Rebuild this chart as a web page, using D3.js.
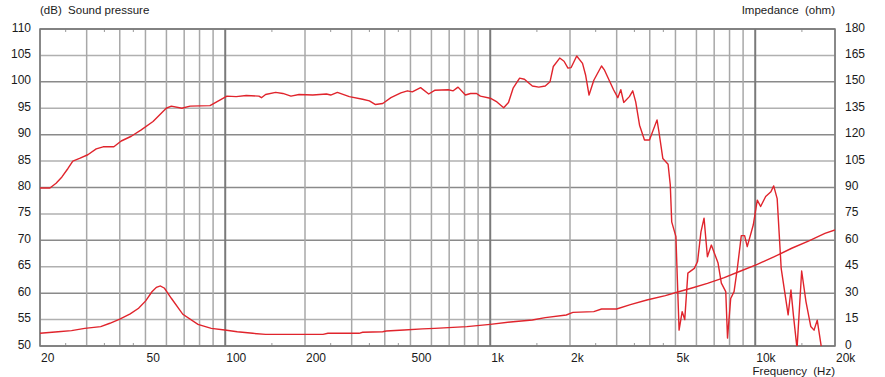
<!DOCTYPE html>
<html>
<head>
<meta charset="utf-8">
<script src="https://cdn.jsdelivr.net/npm/d3@7"></script>
<style>
  body { margin: 0; background: #fff; }
  text { font-family: Arial, "Liberation Sans", sans-serif; font-size: 11.5px; fill: #1a1a1a; }
  .num { font-size: 12px; }
</style>
</head>
<body>
<div id="chart"></div>
<script>
// sound pressure curve, [Hz, dB]
const splData = [
  [20, 79.9], [21.8, 79.9], [23, 80.8], [24.2, 82.0], [25.5, 83.6], [26.6, 85.0],
  [28.2, 85.5], [30.3, 86.2], [32.6, 87.3], [34.6, 87.7], [38, 87.7], [40.5, 88.8],
  [44.2, 89.7], [48.2, 90.9], [53.4, 92.5], [59.9, 95.0], [62.6, 95.4], [68.6, 95.0],
  [73.7, 95.4], [87.6, 95.5], [94.3, 96.4], [101.5, 97.3], [110, 97.2], [120, 97.4],
  [134, 97.3], [137, 97.0], [142, 97.6], [155, 98.0], [165, 97.8], [177, 97.3],
  [190, 97.6], [214, 97.5], [241, 97.7], [250, 97.5], [265, 98.0], [294, 97.2],
  [330, 96.7], [350, 96.4], [369, 95.7], [393, 95.9], [422, 97.0], [460, 97.9],
  [487, 98.3], [508, 98.1], [546, 98.9], [586, 97.7], [617, 98.4], [695, 98.5],
  [725, 98.3], [756, 99.0], [806, 97.5], [843, 97.8], [888, 97.8], [918, 97.3],
  [1000, 96.9], [1060, 96.2], [1124, 95.1], [1172, 96.1], [1220, 98.8], [1291, 100.7],
  [1346, 100.5], [1442, 99.2], [1525, 99.0], [1613, 99.2], [1681, 100.0], [1730, 102.9],
  [1829, 104.5], [1899, 103.9], [1965, 102.6], [2020, 102.7], [2120, 104.9], [2230, 103.5],
  [2290, 101.3], [2360, 97.5], [2460, 100.3], [2630, 103.0], [2700, 102.2], [2920, 98.5],
  [3030, 97.0], [3110, 98.5], [3190, 96.1], [3350, 97.2], [3450, 98.3], [3540, 96.2],
  [3660, 91.8], [3820, 89.0], [3990, 89.0], [4260, 92.8], [4330, 90.6], [4480, 85.5],
  [4690, 84.4], [4780, 80.5], [4840, 73.5], [5020, 70.7], [5160, 53.0], [5300, 56.5],
  [5420, 55.0], [5570, 63.8], [5890, 64.7], [6060, 66.0], [6240, 71.6], [6410, 74.2],
  [6600, 66.9], [6830, 69.1], [7240, 65.7], [7450, 61.9], [7740, 60.3], [7860, 51.5],
  [8080, 59.0], [8320, 60.3], [8560, 64.7], [8860, 70.9], [9120, 70.9], [9330, 68.8],
  [9830, 72.9], [10180, 77.6], [10480, 76.4], [10950, 78.3], [11460, 79.2], [11740, 80.3],
  [12100, 77.9], [12530, 64.7], [13310, 55.9], [13640, 60.6], [13930, 55.9], [14380, 49.5],
  [14970, 64.2], [15540, 58.4], [16200, 53.7], [16670, 53.0], [17140, 54.9], [17800, 49.5]
];

// impedance curve, [Hz, ohm]
const impData = [
  [20, 7.2], [23.4, 8.1], [26.3, 8.7], [29.5, 10.0], [33.9, 11.0], [36.7, 12.9],
  [40, 15.3], [43.8, 18.2], [47.1, 21.4], [50.1, 25.6], [52.9, 30.8], [55, 33.3],
  [56.9, 34.1], [59, 32.8], [62.6, 27.1], [69.2, 18.0], [78.9, 12.3], [88.6, 10.0],
  [99.6, 9.1], [111, 8.1], [127, 7.2], [142, 6.6], [234, 6.6], [244, 7.2],
  [320, 7.2], [330, 7.8], [393, 8.1], [405, 8.5], [473, 9.1], [555, 9.7],
  [617, 10.0], [816, 11.0], [1000, 12.3], [1220, 13.8], [1442, 14.8], [1613, 16.1],
  [1937, 17.6], [2050, 19.1], [2460, 19.5], [2630, 21.0], [3000, 21.0], [3380, 23.5],
  [3900, 26.1], [4580, 28.6], [5140, 30.8], [5730, 32.8], [6600, 35.6], [7640, 38.8],
  [8810, 42.6], [10180, 46.4], [11810, 50.7], [13730, 55.5], [15870, 59.6], [18320, 64.0],
  [20000, 65.9]
];

const gridFreqs = [20, 30, 40, 50, 60, 70, 80, 90, 100, 200, 300, 400, 500, 600, 700, 800, 900,
  1000, 2000, 3000, 4000, 5000, 6000, 7000, 8000, 9000, 10000, 20000];
const minorFreqs = [25, 35, 45, 150, 250, 350, 450, 1500, 2500, 3500, 4500, 15000];
const freqLabels = [[20, "20"], [50, "50"], [100, "100"], [200, "200"], [500, "500"],
  [1000, "1k"], [2000, "2k"], [5000, "5k"], [10000, "10k"], [20000, "20k"]];
const dbTicks = [50, 55, 60, 65, 70, 75, 80, 85, 90, 95, 100, 105, 110];
const ohmTicks = [0, 15, 30, 45, 60, 75, 90, 105, 120, 135, 150, 165, 180];

const W = 885, H = 377;
const pLeft = 40, pRight = 835, pTop = 29, pBottom = 346;

const svg = d3.select("#chart").append("svg")
  .attr("width", W)
  .attr("height", H);

const x = d3.scaleLog().domain([20, 20000]).range([pLeft, pRight]);
const yDb = d3.scaleLinear().domain([50, 110]).range([pBottom, pTop]);
const yOhm = d3.scaleLinear().domain([0, 180]).range([pBottom, pTop]);

// horizontal grid
svg.append("g").selectAll("line")
  .data(dbTicks)
  .join("line")
  .attr("x1", pLeft).attr("x2", pRight)
  .attr("y1", d => yDb(d)).attr("y2", d => yDb(d))
  .attr("stroke", d => d % 10 == 0 ? "#8a8a8a" : "#b0b0b0")
  .attr("stroke-width", 1.5);

// vertical grid
const decades = [100, 1000, 10000];
svg.append("g").selectAll("line")
  .data(gridFreqs)
  .join("line")
  .attr("x1", d => x(d)).attr("x2", d => x(d))
  .attr("y1", pTop).attr("y2", pBottom)
  .attr("stroke", d => decades.includes(d) ? "#7a7a7a" : "#a8a8a8")
  .attr("stroke-width", d => decades.includes(d) ? 2 : 1.5);

// small ticks top and bottom
const mt = svg.append("g").selectAll("g").data(minorFreqs).join("g");
mt.append("line")
  .attr("x1", d => x(d)).attr("x2", d => x(d))
  .attr("y1", pTop).attr("y2", pTop + 3)
  .attr("stroke", "#999");
mt.append("line")
  .attr("x1", d => x(d)).attr("x2", d => x(d))
  .attr("y1", pBottom - 3).attr("y2", pBottom)
  .attr("stroke", "#999");

// frame
svg.append("rect")
  .attr("x", pLeft).attr("y", pTop)
  .attr("width", pRight - pLeft).attr("height", pBottom - pTop)
  .attr("fill", "none")
  .attr("stroke", "#777")
  .attr("stroke-width", 1.5);

svg.append("defs").append("clipPath").attr("id", "clip")
  .append("rect")
  .attr("x", pLeft).attr("y", pTop)
  .attr("width", pRight - pLeft).attr("height", pBottom - pTop);

const lineDb = d3.line()
  .x(d => x(d[0]))
  .y(d => yDb(d[1]));

const lineOhm = d3.line()
  .x(d => x(d[0]))
  .y(d => yOhm(d[1]));

const curves = svg.append("g").attr("clip-path", "url(#clip)");

curves.append("path")
  .datum(impData)
  .attr("fill", "none")
  .attr("stroke", "#e0242c")
  .attr("stroke-width", 1.4)
  .attr("d", lineOhm);

curves.append("path")
  .datum(splData)
  .attr("fill", "none")
  .attr("stroke", "#e0242c")
  .attr("stroke-width", 1.4)
  .attr("stroke-linejoin", "round")
  .attr("d", lineDb);

// left axis labels
svg.append("g").selectAll("text")
  .data(dbTicks)
  .join("text")
  .attr("class", "num")
  .attr("x", 31)
  .attr("y", d => yDb(d) + 2.5)
  .attr("text-anchor", "end")
  .text(d => d);

// right axis labels
svg.append("g").selectAll("text")
  .data(ohmTicks)
  .join("text")
  .attr("class", "num")
  .attr("x", 845)
  .attr("y", d => yOhm(d) + 2.5)
  .text(d => d);

// frequency labels
svg.append("g").selectAll("text")
  .data(freqLabels)
  .join("text")
  .attr("class", "num")
  .attr("x", d => x(d[0]) + 1)
  .attr("y", 361.5)
  .text(d => d[1]);

svg.append("text")
  .attr("x", 40).attr("y", 14)
  .attr("xml:space", "preserve")
  .text("(dB)  Sound pressure");

svg.append("text")
  .attr("x", 835).attr("y", 14)
  .attr("text-anchor", "end")
  .attr("xml:space", "preserve")
  .text("Impedance  (ohm)");

svg.append("text")
  .attr("x", 835).attr("y", 375)
  .attr("text-anchor", "end")
  .attr("xml:space", "preserve")
  .text("Frequency  (Hz)");
</script>
</body>
</html>
